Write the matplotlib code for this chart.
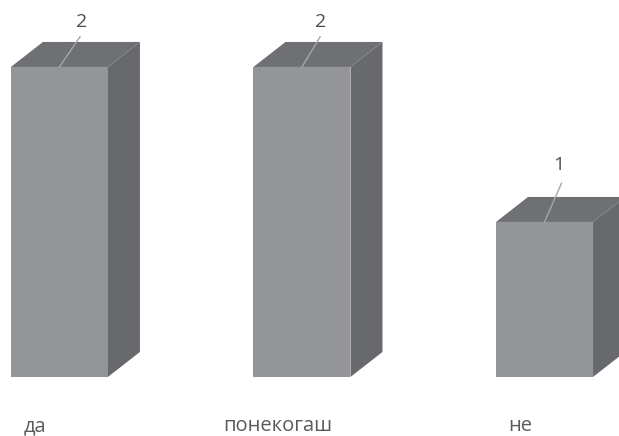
import matplotlib
matplotlib.use("Agg")
import matplotlib.pyplot as plt
from matplotlib.patches import Polygon

categories = ["да", "понекогаш", "не"]
values = [2, 2, 1]

plt.rcParams["font.family"] = ["Open Sans", "DejaVu Sans"]

fig = plt.figure(figsize=(6.19, 4.36), dpi=100)
ax = fig.add_axes([0, 0, 1, 1])
ax.set_xlim(-0.245, 2.307)
ax.set_ylim(-0.381, 2.432)
ax.axis("off")

width = 0.4
# depth of the fake 3d box, in data units
dx = 32 / 242.5
dy = 25 / 155
# how far the leader line climbs above each bar, and where its label sits
line_up = [0.195, 0.195, 0.25]
line_right = [0.085, 0.075, 0.07]
label_up = [0.29, 0.29, 0.365]
label_right = [0.09, 0.075, 0.06]

for i, (name, v) in enumerate(zip(categories, values)):
    left = i - width / 2
    right = i + width / 2
    ax.bar(i, v, width=width, color="#949598", linewidth=0)
    # side and top faces
    ax.add_patch(Polygon([(right, 0), (right + dx, dy), (right + dx, v + dy), (right, v)],
                         color="#68696c", linewidth=0))
    ax.add_patch(Polygon([(left, v), (left + dx, v + dy), (right + dx, v + dy), (right, v)],
                         color="#6f7073", linewidth=0))
    # leader line and value
    ax.plot([i, i + line_right[i]], [v, v + line_up[i]], color="#a5a6a8", linewidth=1)
    ax.text(i + label_right[i], v + label_up[i], str(v), ha="center", va="center",
            fontsize=14, color="#4d4d4f")
    ax.text(i - 0.1, -0.318, name, ha="center", va="center", fontsize=14.5, color="#5a5a5c")

fig.savefig("out.png", dpi=100)
